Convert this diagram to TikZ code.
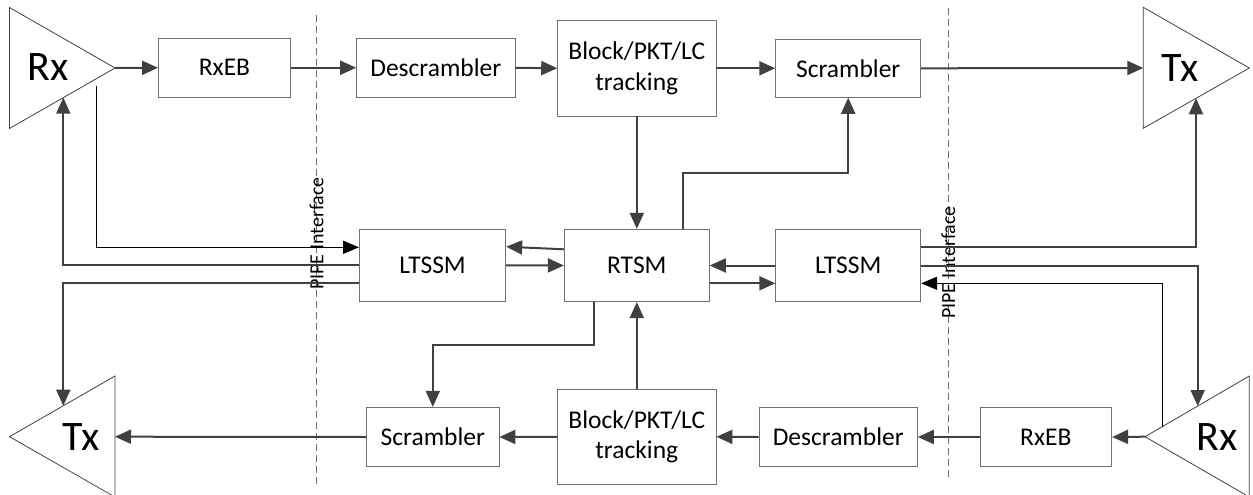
\documentclass[tikz,border=0pt]{standalone}
\usepackage{fontspec}
\setmainfont{Carlito}
\usetikzlibrary{arrows.meta}
\definecolor{arrgray}{HTML}{404040}
\definecolor{boxgray}{HTML}{707070}
\begin{document}
\begin{tikzpicture}[x=1pt,y=-1pt,
  box/.style={draw=boxgray, line width=0.9pt, inner sep=0pt, align=center,
    font=\fontsize{25.5}{30.7}\selectfont},
  tri/.style={draw=arrgray, line width=0.8pt},
  big/.style={font=\fontsize{42}{42}\selectfont, inner sep=0pt},
  arr/.style={draw=arrgray, line width=2pt, -{Triangle[length=16pt,width=14pt]}},
  arrb/.style={draw=black, line width=1.5pt, -{Triangle[length=16pt,width=13pt]}},
  iface/.style={draw=boxgray, line width=0.8pt, dash pattern=on 7pt off 4pt},
  ilabel/.style={rotate=90, font=\fontsize{20}{20}\selectfont, inner sep=0pt}]
\useasboundingbox (0,0) rectangle (1253,495);

% interface dashed lines
\draw[iface] (316.7,15) -- (316.7,485);
\draw[iface] (948.3,8.3) -- (948.3,478.3);
\node[ilabel] (pipeL) at (316.7,233.5) {PIPE Interface};
\node[ilabel] (pipeR) at (948.3,262.5) {PIPE Interface};

% triangles
\draw[tri] (9.5,7.5) -- (9.5,128.5) -- (115,68) -- cycle;
\draw[tri] (1143.3,7.3) -- (1143.3,128.3) -- (1249.3,68) -- cycle;
\draw[tri] (115,376) -- (115,497) -- (9.5,436.7) -- cycle;
\draw[tri] (1249.3,376) -- (1249.3,497) -- (1145,436.7) -- cycle;
\node[big] (rx1) at (48,67) {Rx};
\node[big] (tx1) at (1180,68) {Tx};
\node[big] (tx2) at (81,436.7) {Tx};
\node[big] (rx2) at (1217,436.7) {Rx};

\coordinate (rx1tip) at (115,68);
\coordinate (tx1in) at (1143.3,68);
\coordinate (tx2tip) at (115,436.7);
\coordinate (rx2tip) at (1145,436.7);
\coordinate (rx1out) at (96.7,86);
\coordinate (rx1in) at (63.3,97.6);
\coordinate (tx2in) at (63.3,405.7);
\coordinate (tx1up) at (1196,98.3);
\coordinate (rx2in) at (1197.7,406);
\coordinate (rx2out) at (1162.3,426.6);

% boxes
\node[box, minimum width=132pt, minimum height=59.5pt] (rxeb1) at (224.5,67.75) {RxEB};
\node[box, minimum width=158.3pt, minimum height=59.5pt] (desc1) at (435.8,67.75) {Descrambler};
\node[box, minimum width=158.3pt, minimum height=95.3pt] (blk1) at (636.8,68.3) {Block/PKT/LC\\tracking};
\node[box, minimum width=145pt, minimum height=58pt] (scr1) at (848.2,68.3) {Scrambler};
\node[box, minimum width=146.2pt, minimum height=72.7pt] (ltssm1) at (432.6,265.3) {LTSSM};
\node[box, minimum width=145pt, minimum height=72.4pt] (rtsm) at (636.8,265.5) {RTSM};
\node[box, minimum width=145pt, minimum height=72.4pt] (ltssm2) at (848.2,265.5) {LTSSM};
\node[box, minimum width=132.3pt, minimum height=59.4pt] (scr2) at (432.8,437) {Scrambler};
\node[box, minimum width=158.3pt, minimum height=95pt] (blk2) at (636.8,436.8) {Block/PKT/LC\\tracking};
\node[box, minimum width=158.3pt, minimum height=59.4pt] (desc2) at (838.2,437) {Descrambler};
\node[box, minimum width=131.7pt, minimum height=59.4pt] (rxeb2) at (1045.8,437) {RxEB};

% top chain
\draw[arr] (rx1tip) -- (rxeb1.west);
\draw[arr] (rxeb1.east) -- (desc1.west);
\draw[arr] (desc1.east) -- (blk1.west);
\draw[arr] (blk1.east) -- (scr1.west);
\draw[arr] (scr1.east) -- (tx1in);
\draw[arr] (blk1.south) -- (rtsm.north);
\draw[arr] ([xshift=45.9pt]rtsm.north) -- ++(0,-56) -| (scr1.south);

% left side
\draw[arrb] (rx1out) |- ([yshift=18pt]ltssm1.west);
\draw[arr] (ltssm1.west) -| (rx1in);
\draw[arr] ([yshift=-18pt]ltssm1.west) -| (tx2in);

% middle
\draw[arr] ([yshift=16.2pt]rtsm.west) -- ([yshift=18.6pt]ltssm1.east);
\draw[arr] (ltssm1.east) -- (rtsm.west);
\draw[arr] (ltssm2.west) -- (rtsm.east);
\draw[arr] ([yshift=-17.8pt]rtsm.east) -- ([yshift=-17.8pt]ltssm2.west);

% right side
\draw[arr] ([yshift=18.2pt]ltssm2.east) -| (tx1up);
\draw[arr] (ltssm2.east) -| (rx2in);
\draw[arrb] (rx2out) |- ([yshift=-17.8pt]ltssm2.east);

% bottom chain
\draw[arr] ([xshift=-42.5pt]rtsm.south) -- ++(0,43.3) -| (scr2.north);
\draw[arr] (blk2.north) -- (rtsm.south);
\draw[arr] (rx2tip) -- (rxeb2.east);
\draw[arr] (rxeb2.west) -- (desc2.east);
\draw[arr] (desc2.west) -- (blk2.east);
\draw[arr] (blk2.west) -- (scr2.east);
\draw[arr] (scr2.west) -- (tx2tip);
\end{tikzpicture}
\end{document}
